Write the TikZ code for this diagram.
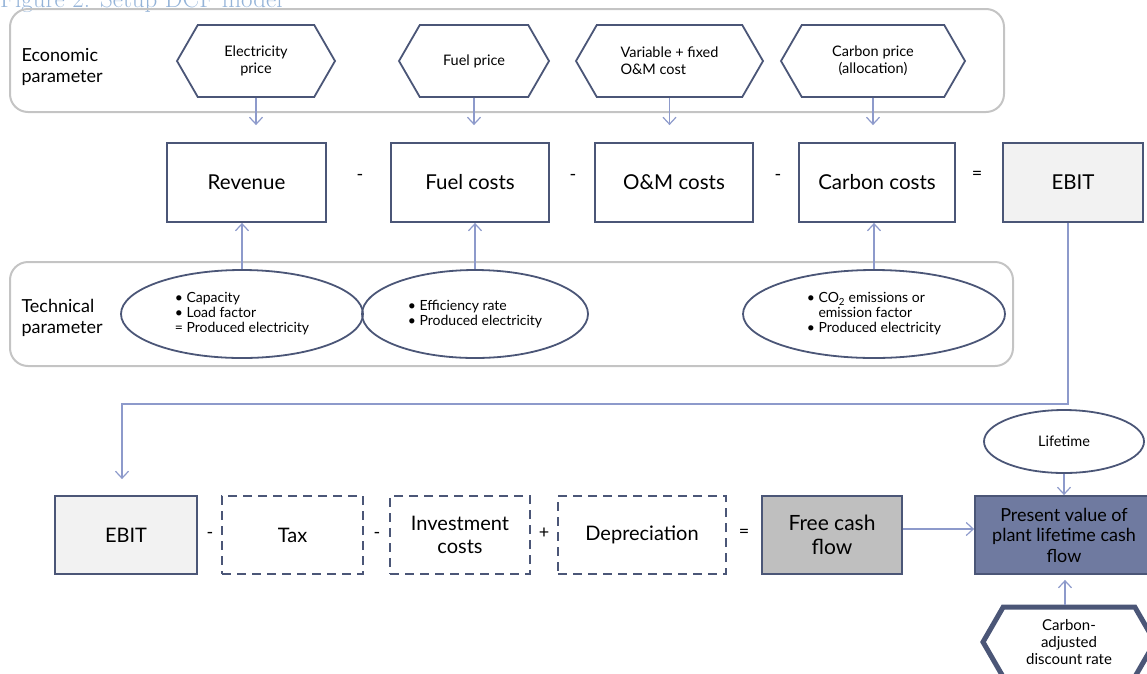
\documentclass[tikz,border=0pt]{standalone}
\usepackage{fontspec}
\setsansfont{Lato}
\usetikzlibrary{arrows.meta,shapes,positioning}

\definecolor{boxline}{HTML}{4B5677}
\definecolor{arrowline}{HTML}{8D9ACB}
\definecolor{frameline}{HTML}{C4C4C4}
\definecolor{ebitfill}{HTML}{F2F2F2}
\definecolor{cashfill}{HTML}{BFBFBF}
\definecolor{pvfill}{HTML}{6F7AA0}
\definecolor{titleblue}{HTML}{94B3D8}

\begin{document}
\begin{tikzpicture}[x=1pt,y=-1pt,>={Straight Barb[length=7pt,width=13pt]},font=\sffamily]

      \tikzstyle{frame}=[draw=frameline,line width=2pt,rounded corners=18pt,inner sep=0pt]
      \tikzstyle{param}=[signal,signal to=west and east,signal pointer angle=120,draw=boxline,line width=1.8pt,inner sep=1pt,minimum height=72pt,align=center,font=\sffamily\fontsize{14.5}{17}\selectfont]
      \tikzstyle{cost}=[rectangle,draw=boxline,line width=1.8pt,minimum height=79pt,align=center,font=\sffamily\fontsize{20.5}{24}\selectfont]
      \tikzstyle{item}=[rectangle,draw=boxline,line width=1.8pt,minimum height=78pt,align=center,font=\sffamily\fontsize{20}{23}\selectfont]
      \tikzstyle{dashitem}=[item,dash pattern=on 9pt off 6pt]
      \tikzstyle{techpar}=[ellipse,draw=boxline,line width=1.8pt,inner sep=0pt,minimum height=88pt,align=left,font=\sffamily\fontsize{14}{15}\selectfont]
      \tikzstyle{sign}=[font=\sffamily\fontsize{18}{20}\selectfont]
      \tikzstyle{grouplabel}=[anchor=west,align=left,font=\sffamily\fontsize{18}{21}\selectfont]
      \tikzstyle{arr}=[->,draw=arrowline,line width=1.2pt]

    \useasboundingbox (0,0) rectangle (1147,673);

    \node[anchor=base west,inner sep=0pt,text=titleblue,font=\rmfamily\fontsize{25}{29}\selectfont] (title) at (0,7) {Figure 2: Setup DCF model};

    % economic parameters
    \node[frame,minimum width=994pt,minimum height=103pt] (econ) at (507,60.5) {};
    \node[grouplabel] (econlabel) at (18,67) {Economic\\parameter};
    \node[param,minimum width=158pt] (elprice) at (256,61) {Electricity\\price};
    \node[param,minimum width=150pt] (fuelprice) at (474,61) {Fuel price};
    \node[param,minimum width=187pt,align=left] (omprice) at (669.5,61) {Variable + fixed\\O\&M cost};
    \node[param,minimum width=184pt] (co2price) at (873,61) {Carbon price\\(allocation)};

    % EBIT line
    \node[cost,minimum width=159pt] (rev) at (246.5,182.5) {Revenue};
    \node[sign] (m1) at (360,177) {-};
    \node[cost,minimum width=158pt] (fuel) at (470,182.5) {Fuel costs};
    \node[sign] (m2) at (573,177) {-};
    \node[cost,minimum width=158pt] (om) at (674,182.5) {O\&M costs};
    \node[sign] (m3) at (778,177) {-};
    \node[cost,minimum width=156pt] (carbon) at (877,182.5) {Carbon costs};
    \node[sign] (eq1) at (977,175) {=};
    \node[cost,minimum width=140pt,fill=ebitfill] (ebit) at (1073,182.5) {EBIT};

    % technical parameters
    \node[frame,minimum width=1003pt,minimum height=104pt] (tech) at (511.5,314) {};
    \node[grouplabel] (techlabel) at (18,318) {Technical\\parameter};
    \node[techpar,minimum width=242pt] (capacity) at (242,314) {\textbullet\ Capacity\\\textbullet\ Load factor\\= Produced electricity};
    \node[techpar,minimum width=226pt] (effic) at (475,314) {\textbullet\ Efficiency rate\\\textbullet\ Produced electricity};
    \node[techpar,minimum width=262pt] (emis) at (874,314) {\textbullet\ CO\textsubscript{2} emissions or\\\phantom{\textbullet\ }emission factor\\\textbullet\ Produced electricity};

    \draw[arr,shorten >=17pt] (elprice.south) -- (elprice.south |- rev.north);
    \draw[arr,shorten >=17pt] (fuelprice.south) -- (fuelprice.south |- fuel.north);
    \draw[arr,shorten >=17pt] (omprice.south) -- (omprice.south |- om.north);
    \draw[arr,shorten >=17pt] (co2price.south) -- (co2price.south |- carbon.north);
    \draw[arr] (capacity.north) -- (capacity.north |- rev.south);
    \draw[arr] (effic.north) -- (effic.north |- fuel.south);
    \draw[arr] (emis.north) -- (emis.north |- carbon.south);

    % cash flow line
    \node[item,minimum width=142pt,fill=ebitfill] (ebitb) at (126,535) {EBIT};
    \node[sign] (m4) at (210,535) {-};
    \node[dashitem,minimum width=141pt] (tax) at (292.5,535) {Tax};
    \node[sign] (m5) at (377,535) {-};
    \node[dashitem,minimum width=140pt] (invest) at (460,535) {Investment\\costs};
    \node[sign] (p1) at (544,533) {+};
    \node[dashitem,minimum width=168pt] (depr) at (642,535) {Depreciation};
    \node[sign] (eq2) at (744,533) {=};
    \node[item,minimum width=140pt,fill=cashfill,font=\sffamily\fontsize{21}{24}\selectfont] (fcf) at (832,535) {Free cash\\flow};
    \node[item,minimum width=178pt,fill=pvfill,font=\sffamily\fontsize{18}{20.5}\selectfont] (pv) at (1064,535) {Present value of\\plant lifetime cash\\flow};
    \node[techpar,minimum width=160pt,minimum height=63pt,align=center,font=\sffamily\fontsize{14.5}{17}\selectfont] (life) at (1064,441.5) {Lifetime};
    \node[param,minimum width=172pt,minimum height=70pt,line width=5pt,font=\sffamily\fontsize{15}{17}\selectfont] (disc) at (1069,642) {Carbon-\\adjusted\\discount rate};

    \draw[arr,shorten >=16pt] ([xshift=-5pt]ebit.south) -- ++(0,181) -| ([xshift=-4pt]ebitb.north);
    \draw[arr] ([yshift=6pt]fcf.east) -- ([yshift=6pt]fcf.east -| pv.west);
    \draw[arr] (life.south) -- (life.south |- pv.north);
    \draw[arr,shorten >=5pt] ([xshift=-4pt]disc.north) -- ([xshift=-4pt]disc.north |- pv.south);

\end{tikzpicture}
\end{document}
